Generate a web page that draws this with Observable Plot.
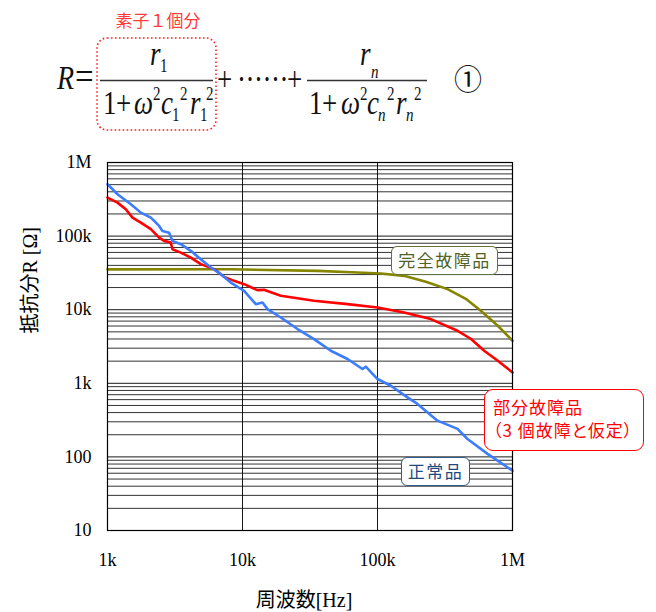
<!DOCTYPE html>
<html><head><meta charset="utf-8">
<script src="https://cdn.jsdelivr.net/npm/d3@7"></script>
<script src="https://cdn.jsdelivr.net/npm/@observablehq/plot@0.6"></script>
<style>
body{margin:0;background:#fff;}
#wrap{position:relative;width:656px;height:612px;overflow:hidden;background:#fff;}
#wrap svg{position:absolute;left:0;top:0;}
.box{position:absolute;box-sizing:border-box;background:#fff;font-family:"Noto Sans CJK JP",sans-serif;font-feature-settings:"palt";font-size:17px;white-space:nowrap;}
</style></head><body>
<div id="wrap">
</div>
<script>
// ---- data ----
const xTicks = [1e3, 1e4, 1e5, 1e6];
const xTickLabels = ["1k", "10k", "100k", "1M"];
const yTicks = [10, 100, 1e3, 1e4, 1e5, 1e6];
const yTickLabels = ["10", "100", "1k", "10k", "100k", "1M"];
const xGrid = [1e4, 1e5];

const freqNormal = [1000,1186,1489,1766,2094,2412,2553,2858,3027,3489,4140,4909,5821,6902,8184,10270,12550,14070,15310,19220,25550,33880,45060,59950,77400,81900,100000,125500,166800,197700,278000,391400,464200,653300,1000000];
const rNormal = [506000,370700,271000,208400,178200,137400,117500,111400,86100,77600,63000,48600,37400,30400,23400,18040,11900,12530,10190,7830,5460,3990,2770,2138,1563,1680,1143,927,644,524,311,240,175,110,65];

const freqPartial = [1000,1186,1366,1531,1766,2094,2412,2625,2944,3027,3489,4140,4909,6166,7311,8669,10270,12910,14400,19220,33880,59950,100000,157400,248200,391400,491000,616600,778000,1000000];
const rPartial = [332700,285000,231700,178200,152400,124100,95500,86100,81600,66400,59700,51100,41600,35600,27950,24660,22230,18450,18620,15450,13210,11900,10710,9160,7450,5170,4030,2770,2027,1406];

const freqFull = [1000,8184,35940,71100,105700,157400,228000,330000,451000,582000,778000,1000000];
const rFull = [35340,35440,33730,31980,30980,28840,23920,19040,14060,9660,6050,3785];

const xTitle = "周波数[Hz]";
const yTitle = "抵抗分R [Ω]";
const labelFull = "完全故障品";
const labelPartial = ["部分故障品", "（3 個故障と仮定）"];
const labelNormal = "正常品";

// ---- build ----
const toRows = (fs, rs) => fs.map((f, i) => ({f, r: rs[i]}));
const normal = toRows(freqNormal, rNormal);
const partial = toRows(freqPartial, rPartial);
const full = toRows(freqFull, rFull);
const yMinor = yTicks.slice(0, -1).flatMap(d => [2,3,4,5,6,7,8,9].map(k => d * k));

const plot = Plot.plot({
  width: 656, height: 612,
  marginTop: 162, marginBottom: 82, marginLeft: 107, marginRight: 144,
  x: {type: "log", domain: [1e3, 1e6]},
  y: {type: "log", domain: [10, 1e6]},
  style: {fontFamily: "'Liberation Serif', 'Noto Sans CJK JP', serif", fontSize: "18px", color: "#000", background: "transparent", overflow: "visible"},
  marks: [
    Plot.ruleY(yMinor, {stroke: "#000", strokeOpacity: 0.8}),
    Plot.ruleY(yTicks, {stroke: "#000", strokeOpacity: 0.9}),
    Plot.ruleX(xGrid, {stroke: "#000", strokeOpacity: 0.9}),
    Plot.line(full, {x: "f", y: "r", stroke: "#858500", strokeWidth: 2.6}),
    Plot.line(partial, {x: "f", y: "r", stroke: "#ff0000", strokeWidth: 2.6}),
    Plot.line(normal, {x: "f", y: "r", stroke: "#3c7cff", strokeWidth: 2.6}),
    Plot.frame({stroke: "#000", strokeWidth: 1.2}),
    Plot.axisX({ticks: xTicks, tickFormat: d => xTickLabels[xTicks.indexOf(d)], tickSize: 0, tickPadding: 23, label: null}),
    Plot.axisY({ticks: yTicks, tickFormat: d => yTickLabels[yTicks.indexOf(d)], tickSize: 0, tickPadding: 16, label: null}),
    Plot.text([xTitle], {text: d => d, frameAnchor: "bottom", lineAnchor: "middle", dy: 70, dx: -6, fontSize: 20}),
    Plot.text([yTitle], {text: d => d, frameAnchor: "left", lineAnchor: "middle", dx: -77, dy: -13, rotate: -90, fontSize: 20})
  ]
});
const wrap = document.getElementById("wrap");
wrap.appendChild(plot);

// ---- annotation boxes ----
function box(html, css) {
  const d = document.createElement("div");
  d.className = "box";
  d.innerHTML = html;
  Object.assign(d.style, css);
  wrap.appendChild(d);
}
box(labelFull, {left: "391px", top: "246px", width: "107px", height: "29px", border: "1.6px solid #5f7439", borderRadius: "6px", color: "#4f6228", textAlign: "center", lineHeight: "26px", letterSpacing: "1.5px"});
box(labelPartial.join("<br>"), {left: "484px", top: "389px", width: "160px", height: "62px", border: "1.6px solid #ff0000", borderRadius: "9px", color: "#ff0000", paddingLeft: "8px", paddingTop: "5px", lineHeight: "23px", letterSpacing: "1px"});
box(labelNormal, {left: "401px", top: "457px", width: "69px", height: "29px", border: "1.6px solid #2f5a8a", borderRadius: "6px", color: "#1f497d", textAlign: "center", lineHeight: "26px", letterSpacing: "1.5px"});

// ---- formula ----
const NS = "http://www.w3.org/2000/svg";
const fsvg = document.createElementNS(NS, "svg");
fsvg.setAttribute("width", 656); fsvg.setAttribute("height", 150);
fsvg.innerHTML = `
<text x="158" y="27" text-anchor="middle" fill="#ff3b3b" font-family="Noto Sans CJK JP" font-size="17">素子１個分</text>
<rect x="97" y="38" width="119" height="92" rx="10" fill="none" stroke="#ff2020" stroke-width="1.6" stroke-dasharray="1.6,2.4"/>
<line x1="100" x2="213" y1="80.5" y2="80.5" stroke="#333" stroke-width="1.3"/>
<line x1="307" x2="427" y1="80.5" y2="80.5" stroke="#333" stroke-width="1.3"/>
<g font-family="Liberation Serif" font-size="27" fill="#111" transform="translate(0,80) scale(1,1.22) translate(0,-80)">
  <text x="57" y="87.2" font-style="italic" font-size="28">R</text>
  <text x="75" y="88" font-size="33">=</text>
  <text x="150" y="68" font-style="italic">r</text>
  <text x="160" y="73.6" font-size="15">1</text>
  <text x="103" y="108">1</text>
  <text x="116" y="108">+</text>
  <text x="134" y="108" font-style="italic">ω</text>
  <text x="153" y="96" font-size="15">2</text>
  <text x="161" y="108" font-style="italic">c</text>
  <text x="172" y="113.6" font-size="15">1</text>
  <text x="180" y="96" font-size="15">2</text>
  <text x="190" y="108" font-style="italic">r</text>
  <text x="200" y="113.6" font-size="15">1</text>
  <text x="206" y="96" font-size="15">2</text>
  <text x="217" y="88">+</text>
  <text x="237" y="88">·</text>
  <text x="245.5" y="88">·</text>
  <text x="254" y="88">·</text>
  <text x="262.5" y="88">·</text>
  <text x="271" y="88">·</text>
  <text x="279.5" y="88">·</text>
  <text x="287" y="88">+</text>
  <text x="360" y="68" font-style="italic">r</text>
  <text x="371" y="78.4" font-size="15" font-style="italic">n</text>
  <text x="309" y="108">1</text>
  <text x="322" y="108">+</text>
  <text x="341" y="108" font-style="italic">ω</text>
  <text x="360" y="96" font-size="15">2</text>
  <text x="367" y="108" font-style="italic">c</text>
  <text x="378" y="113.6" font-size="15" font-style="italic">n</text>
  <text x="387" y="96" font-size="15">2</text>
  <text x="396" y="108" font-style="italic">r</text>
  <text x="406" y="113.6" font-size="15" font-style="italic">n</text>
  <text x="414" y="96" font-size="15">2</text>
</g>
<text x="468" y="90" text-anchor="middle" font-family="Noto Sans CJK JP" font-size="28" fill="#111">①</text>
`;
wrap.appendChild(fsvg);
</script>
</body></html>
